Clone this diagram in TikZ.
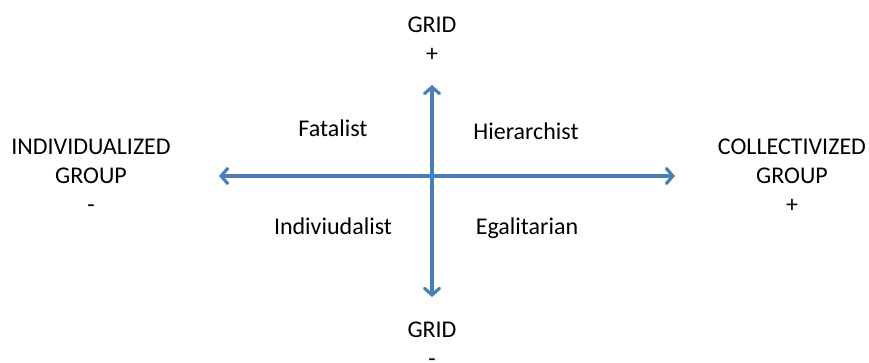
\documentclass[tikz,border=0pt]{standalone}
\usepackage{fontspec}
\setmainfont{Carlito}
\usetikzlibrary{arrows.meta}
\definecolor{axisblue}{RGB}{74,126,187}

\begin{document}
\begin{tikzpicture}[x=1pt,y=-1pt,
  axis/.style={draw=axisblue,line width=3.2pt,{Straight Barb[length=6.5pt,width=15pt,line width=3.2pt,line cap=round]}-{Straight Barb[length=6.5pt,width=15pt,line width=3.2pt,line cap=round]}},
  lbl/.style={align=center,inner sep=0pt,font=\fontsize{24}{29}\selectfont}]
\useasboundingbox (0,0) rectangle (869,363);
\coordinate (n) at (432,85);  \coordinate (s) at (432,297);
\coordinate (w) at (219,176); \coordinate (e) at (675,176);
\node[lbl,anchor=base] (gridtop) at (432,62) {GRID\\+};
\node[lbl,anchor=base] (gridbot) at (432,366) {GRID\\-};
\node[lbl,anchor=base] (indiv) at (91,213) {INDIVIDUALIZED\\GROUP\\-};
\node[lbl,anchor=base] (coll) at (792,213) {COLLECTIVIZED\\GROUP\\+};
\node[lbl,anchor=base] (fat) at (333,137) {Fatalist};
\node[lbl,anchor=base] (hier) at (526,140) {Hierarchist};
\node[lbl,anchor=base] (ind) at (333,234) {Indiviudalist};
\node[lbl,anchor=base] (egal) at (527,234) {Egalitarian};
\draw[axis] (n) -- (s);
\draw[axis] (w) -- (e);
\end{tikzpicture}
\end{document}
